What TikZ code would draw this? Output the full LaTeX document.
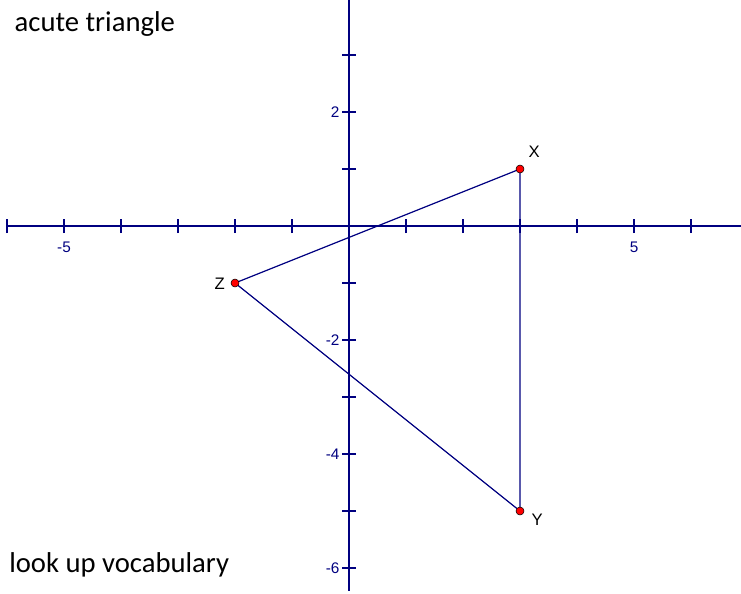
\documentclass[tikz,border=0pt]{standalone}
\usepackage{fontspec}
\setmainfont{Liberation Sans}
\newfontfamily\notefont{Carlito}
\definecolor{axisblue}{RGB}{0,0,128}
\begin{document}
\begin{tikzpicture}[x=42.75pt, y=42.75pt, >=stealth,
    axis/.style={axisblue, line width=1.2pt},
    side/.style={axisblue, line width=0.9pt},
    ticklab/.style={axisblue, font=\fontsize{11.5}{13}\selectfont, inner sep=1pt},
    ptlab/.style={font=\fontsize{12.5}{14}\selectfont, inner sep=1pt},
    pt/.style={circle, draw=black, fill=red, line width=0.4pt, inner sep=0pt, minimum size=6pt},
    note/.style={font=\notefont\fontsize{21.5}{26}\selectfont, anchor=base west, inner sep=0pt}]
				\useasboundingbox (-6.123, -6.439) rectangle (6.877, 3.965);
				% axes
				\draw[axis] (-6, 0) -- (6.877, 0);
				\draw[axis] (0, 3.965) -- (0, -6.40);
				\foreach \i in {-6,...,-1,1,2,...,6}
					\draw[axis] (\i, -0.123) -- (\i, 0.123);
				\foreach \j in {-6,...,-1,1,2,3}
					\draw[axis] (-0.123, \j) -- (0.123, \j);
				\node[ticklab] at (-5, -0.37) {-5};
				\node[ticklab] at (5, -0.37) {5};
				\node[ticklab, anchor=east] at (-0.14, 2) {2};
				\node[ticklab, anchor=east] at (-0.14, -2) {-2};
				\node[ticklab, anchor=east] at (-0.14, -4) {-4};
				\node[ticklab, anchor=east] at (-0.14, -6) {-6};
				% triangle
				\coordinate (X) at (3, 1);
				\coordinate (Y) at (3, -5);
				\coordinate (Z) at (-2, -1);
				\draw[side] (X) -- (Y) -- (Z) -- cycle;
				\node[pt] (Xp) at (X) {};
				\node[pt] (Yp) at (Y) {};
				\node[pt] (Zp) at (Z) {};
				\node[ptlab] at (3.25, 1.30) {X};
				\node[ptlab] at (3.3, -5.16) {Y};
				\node[ptlab] at (-2.27, -1.02) {Z};
				% notes
				\node[note] (top) at (-5.87, 3.404) {acute triangle};
				\node[note] (bottom) at (-5.965, -6.07) {look up vocabulary};
			\end{tikzpicture}
\end{document}
